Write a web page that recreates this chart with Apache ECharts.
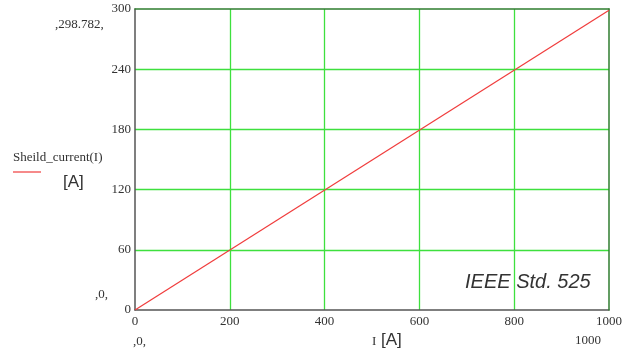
<!DOCTYPE html>
<html><head><meta charset="utf-8">
<script src="https://cdn.jsdelivr.net/npm/echarts@6/dist/echarts.min.js"></script>
<style>html,body{margin:0;padding:0;background:#fff}#c{width:637px;height:357px}</style>
</head><body><div id="c"></div>
<script>
const currentI = [0, 1000];
const shieldCurrent = [0, 298.782];
const xTicks = [0, 200, 400, 600, 800, 1000];
const yTicks = [0, 60, 120, 180, 240, 300];
const seriesName = 'Sheild_current(I)';

const chart = echarts.init(document.getElementById('c'), null, {renderer: 'canvas'});
const serif = 'Liberation Serif';
const sans = 'Liberation Sans';
const xMin = xTicks[0], xMax = xTicks[xTicks.length-1];
const yMin = yTicks[0], yMax = yTicks[yTicks.length-1];
const green = '#2f7d2f';
const gridGreen = '#3ee03e';
chart.setOption({
  animation: false,
  grid: {left: 135, right: 28, top: 9, bottom: 47, show: false},
  xAxis: [{
    type: 'value', min: xMin, max: xMax, interval: 200, z: 1,
    axisLine: {show: true, onZero: false, lineStyle: {color: '#555', width: 1.5}},
    axisTick: {show: false},
    axisLabel: {color: '#333', fontFamily: serif, fontSize: 13, margin: 5, formatter: v => String(v)},
    splitLine: {show: true, showMinLine: false, showMaxLine: false, lineStyle: {color: gridGreen, width: 1.3}}
  }, {
    type: 'value', position: 'top', min: xMin, max: xMax, interval: 200, z: 3,
    axisLine: {show: true, onZero: false, lineStyle: {color: green, width: 1.5}},
    axisTick: {show: false}, axisLabel: {show: false}, splitLine: {show: false}
  }],
  yAxis: [{
    type: 'value', min: yMin, max: yMax, interval: 60, z: 3,
    axisLine: {show: true, onZero: false, lineStyle: {color: '#555', width: 1.5}},
    axisTick: {show: false},
    axisLabel: {color: '#333', fontFamily: serif, fontSize: 13, margin: 4},
    splitLine: {show: true, showMinLine: false, showMaxLine: false, lineStyle: {color: gridGreen, width: 1.3}}
  }, {
    type: 'value', position: 'right', min: yMin, max: yMax, interval: 60, z: 3,
    axisLine: {show: true, onZero: false, lineStyle: {color: green, width: 1.5}},
    axisTick: {show: false}, axisLabel: {show: false}, splitLine: {show: false}
  }],
  series: [{
    name: seriesName, type: 'line', showSymbol: false, z: 4,
    data: currentI.map((x, i) => [x, shieldCurrent[i]]),
    lineStyle: {color: '#f03c3c', width: 1.2}
  }],
  graphic: [
    {type: 'text', left: 55, top: 18, style: {text: ',298.782,', font: '13px ' + serif, fill: '#333'}},
    {type: 'text', left: 95, top: 288, style: {text: ',0,', font: '13px ' + serif, fill: '#333'}},
    {type: 'text', left: 133, top: 335, style: {text: ',0,', font: '13px ' + serif, fill: '#333'}},
    {type: 'text', left: 575, top: 334, style: {text: '1000', font: '13px ' + serif, fill: '#333'}},
    {type: 'text', left: 372, top: 335, style: {text: 'I', font: '13px ' + serif, fill: '#333'}},
    {type: 'text', left: 381, top: 332, style: {text: '[A]', font: '17px ' + sans, fill: '#333'}},
    {type: 'text', left: 13, top: 151, style: {text: seriesName, font: '13px ' + serif, fill: '#333'}},
    {type: 'line', shape: {x1: 13, y1: 172, x2: 41, y2: 172}, style: {stroke: '#f03c3c', lineWidth: 1.2}},
    {type: 'text', left: 63, top: 174, style: {text: '[A]', font: '17px ' + sans, fill: '#333'}},
    {type: 'text', left: 465, top: 272, style: {text: 'IEEE Std. 525', font: 'italic 20px ' + sans, fill: '#333'}}
  ]
});
</script></body></html>
